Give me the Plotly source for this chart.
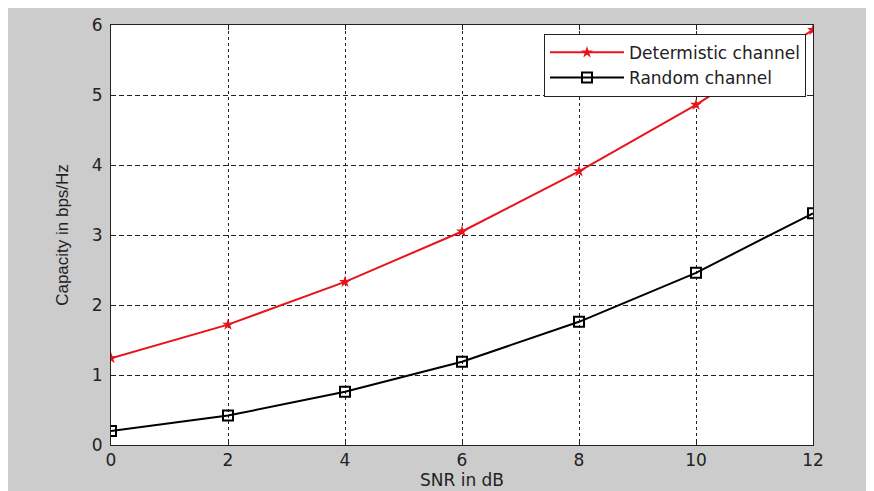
import plotly.graph_objects as go

snr_db = [0, 2, 4, 6, 8, 10, 12]
det_capacity = [1.24, 1.72, 2.33, 3.05, 3.91, 4.86, 5.93]
rand_capacity = [0.20, 0.42, 0.76, 1.19, 1.76, 2.46, 3.31]
x_ticks = [0, 2, 4, 6, 8, 10, 12]
y_ticks = [0, 1, 2, 3, 4, 5, 6]

fig = go.Figure()
fig.add_trace(go.Scatter(
    x=snr_db, y=det_capacity, mode="lines+markers", name="Determistic channel",
    line=dict(color="#e8141b", width=2),
    marker=dict(symbol="star", size=9, color="#e8141b"),
))
fig.add_trace(go.Scatter(
    x=snr_db, y=rand_capacity, mode="lines+markers", name="Random channel",
    line=dict(color="black", width=2),
    marker=dict(symbol="square-open", size=10, color="black", line=dict(width=2)),
))

axis_common = dict(
    showline=True, linecolor="#222", linewidth=1, mirror="ticks",
    ticks="inside", ticklen=5, tickcolor="#222",
    showgrid=True, gridcolor="#222", gridwidth=1,
    zeroline=False,
    tickfont=dict(family="DejaVu Sans", size=17, color="#222"),
)

fig.update_xaxes(
    range=[0, 12], tickvals=x_ticks, griddash="3px,3px",
    title=dict(text="SNR in dB", font=dict(family="DejaVu Sans", size=17, color="#222"), standoff=2),
    **axis_common,
)
fig.update_yaxes(
    range=[0, 6], tickvals=y_ticks, griddash="5px,3px", ticklabelstandoff=4,
    title=dict(text="Capacity in bps/Hz", font=dict(family="Liberation Sans", size=17, color="#222"), standoff=18),
    **axis_common,
)

fig.update_layout(
    width=866, height=483,
    margin=dict(l=103, r=61, t=17, b=46, autoexpand=False),
    paper_bgcolor="#cccccc", plot_bgcolor="white",
    showlegend=True,
    legend=dict(
        x=0.99, y=0.979, xanchor="right", yanchor="top",
        bgcolor="white", bordercolor="#222", borderwidth=1,
        font=dict(family="DejaVu Sans", size=17, color="#222"),
        itemwidth=74, tracegroupgap=0,
    ),
)

fig.write_html("out.html")
